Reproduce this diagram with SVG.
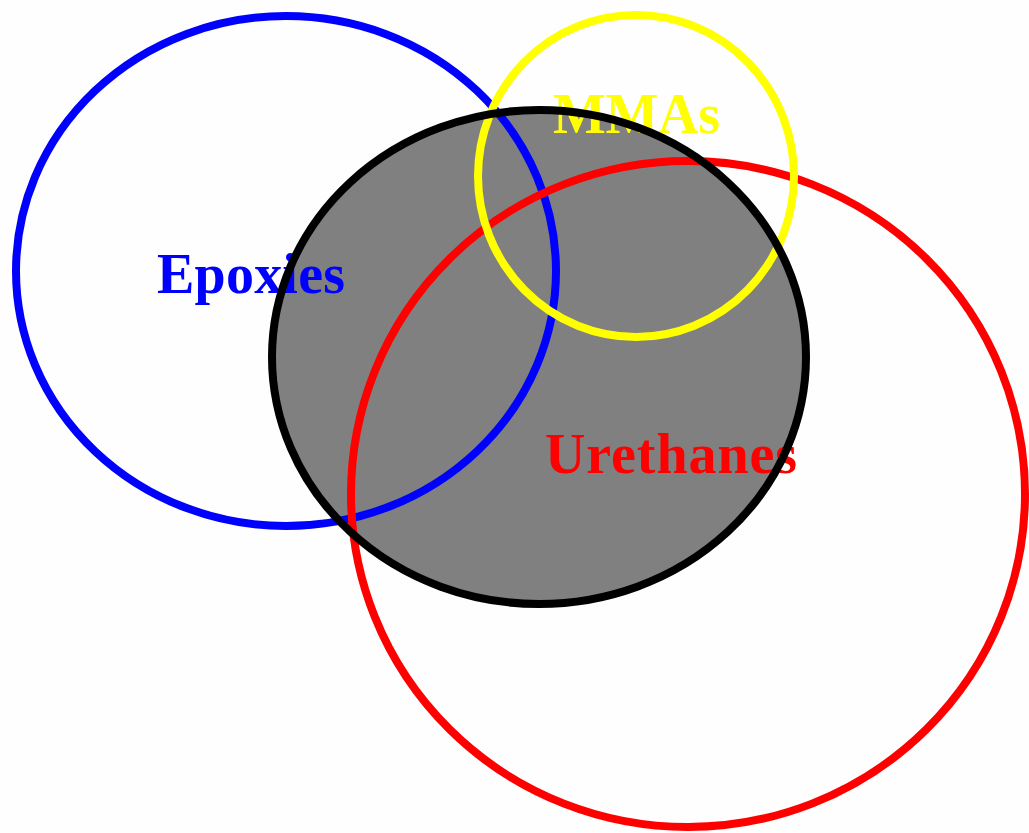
<svg xmlns="http://www.w3.org/2000/svg" width="1029" height="833" viewBox="0 0 1029 833">
<style>
.ring{fill:none;stroke-width:8}
.lbl{font-family:"Liberation Serif","Times New Roman",serif;font-weight:bold;font-size:56px}
</style>
<rect width="1029" height="833" fill="#fefefe"/>
<g id="core-fill"><ellipse cx="539" cy="357" rx="267" ry="247" fill="#808080"/></g>
<g id="epoxies"><ellipse class="ring" cx="286" cy="271" rx="270" ry="255" stroke="#0000ff"/><text class="lbl" x="157" y="293" fill="#0000ff" textLength="188">Epoxies</text></g>
<g id="urethanes"><ellipse class="ring" cx="688" cy="494" rx="337" ry="333" stroke="#ff0000"/><text class="lbl" x="545" y="473" fill="#ff0000" textLength="252">Urethanes</text></g>
<g id="mmas"><ellipse class="ring" cx="636" cy="176" rx="158" ry="161" stroke="#ffff00"/><text class="lbl" x="553" y="133" fill="#ffff00" textLength="167">MMAs</text></g>
<g id="core"><ellipse class="ring" cx="539" cy="357" rx="267" ry="247" stroke="#000000"/></g>
<g id="connectors"></g>
</svg>
